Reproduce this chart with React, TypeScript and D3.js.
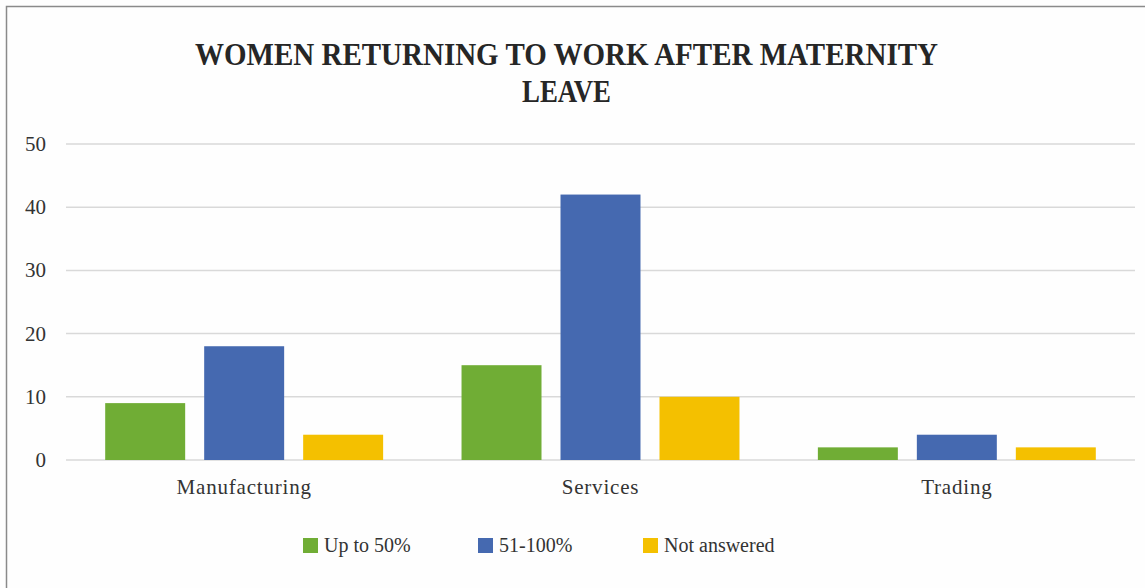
import React from "react";
import * as d3 from "d3";

const categories = ["Manufacturing", "Services", "Trading"];
const seriesNames = ["Up to 50%", "51-100%", "Not answered"];
const upTo50 = [9, 15, 2];
const pct51to100 = [18, 42, 4];
const notAnswered = [4, 10, 2];
const seriesValues = [upTo50, pct51to100, notAnswered];
const seriesColors = ["#70AD35", "#4569B0", "#F4C000"];
const yTicks = [0, 10, 20, 30, 40, 50];
const titleLines = ["WOMEN RETURNING TO WORK AFTER MATERNITY", "LEAVE"];

const W = 1145;
const H = 588;
const FONT = "'Liberation Serif', 'Times New Roman', serif";

export default function App() {
  const plotLeft = 66;
  const plotRight = 1135;
  const plotTop = 144;
  const plotBottom = 460;

  const y = d3.scaleLinear().domain([0, 50]).range([plotBottom, plotTop]);
  const x0 = d3.scaleBand().domain(categories).range([plotLeft, plotRight]).paddingInner(0).paddingOuter(0);
  const x1 = d3
    .scaleBand()
    .domain(seriesNames)
    .range([0, x0.bandwidth()])
    .paddingInner(0.192)
    .paddingOuter(0.396);

  const legendX = [303, 478, 643];

  return (
    <svg
      width={W}
      height={H}
      style={{ position: "absolute", left: 0, top: 0, background: "#fff" }}
      fontFamily={FONT}
    >
      <rect x={0} y={0} width={W} height={H} fill="#fefefe" />
      <rect x={6.5} y={6.5} width={W + 10} height={H + 10} fill="none" stroke="#8a8a8a" strokeWidth={1.5} />

      {titleLines.map((t, i) => (
        <text
          key={t}
          x={566.5}
          y={65 + i * 37}
          textAnchor="middle"
          fontWeight="bold"
          fontSize={31}
          fill="#262626"
          textLength={i === 0 ? 743 : 89}
          lengthAdjust="spacingAndGlyphs"
        >
          {t}
        </text>
      ))}

      {yTicks.map((t) => (
        <g key={t}>
          <line x1={plotLeft} x2={plotRight} y1={y(t)} y2={y(t)} stroke="#d9d9d9" strokeWidth={1.5} />
          <text x={46} y={y(t) + 7} textAnchor="end" fontSize={21} fill="#333">
            {t}
          </text>
        </g>
      ))}

      {categories.map((c, ci) => (
        <g key={c} transform={`translate(${x0(c)},0)`}>
          {seriesNames.map((s, si) => (
            <rect
              key={s}
              x={x1(s)}
              y={y(seriesValues[si][ci])}
              width={x1.bandwidth()}
              height={y(0) - y(seriesValues[si][ci])}
              fill={seriesColors[si]}
            />
          ))}
          <text
            x={x0.bandwidth() / 2}
            y={494}
            textAnchor="middle"
            fontSize={21}
            letterSpacing={0.8}
            fill="#333"
          >
            {c}
          </text>
        </g>
      ))}

      {seriesNames.map((s, i) => (
        <g key={s} transform={`translate(${legendX[i]},538)`}>
          <rect x={0} y={0} width={15} height={15} fill={seriesColors[i]} />
          <text x={21} y={14} fontSize={20} fill="#333">
            {s}
          </text>
        </g>
      ))}
    </svg>
  );
}
